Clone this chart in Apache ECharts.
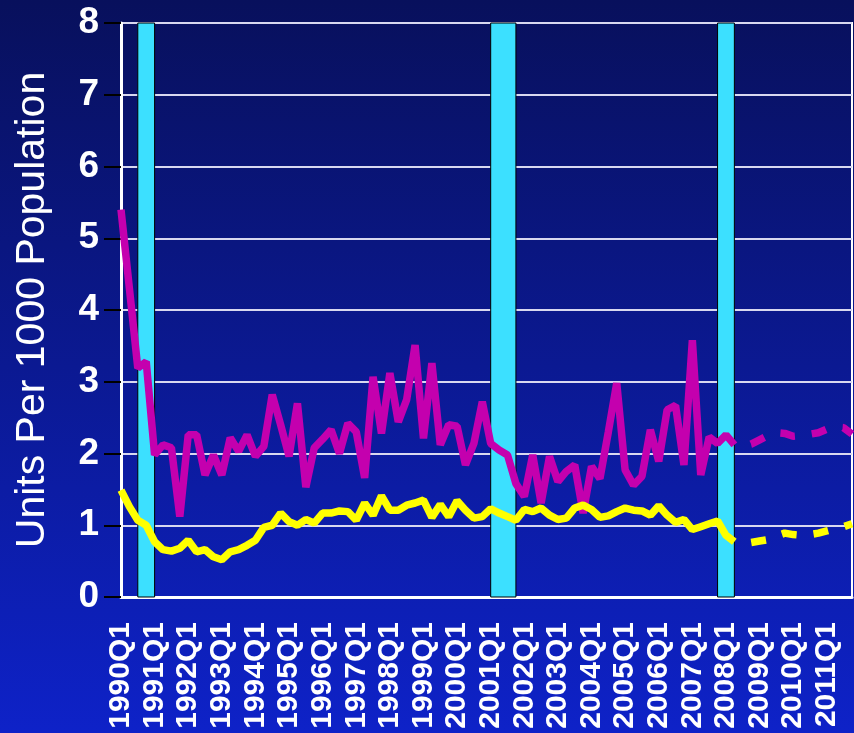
<!DOCTYPE html>
<html>
<head>
<meta charset="utf-8">
<script src="https://cdn.jsdelivr.net/npm/echarts@6/dist/echarts.min.js"></script>
<style>
html,body{margin:0;padding:0;}
#chart{width:854px;height:733px;}
</style>
</head>
<body>
<div id="chart"></div>
<script>
const years = [1990,1991,1992,1993,1994,1995,1996,1997,1998,1999,2000,2001,2002,2003,2004,2005,2006,2007,2008,2009,2010,2011]
const quarters = ['Q1','Q2','Q3','Q4']

const magentaActual = [5.4,4.3,3.19,3.28,1.98,2.12,2.08,1.12,2.26,2.26,1.70,1.98,1.70,2.22,2.03,2.26,
	1.96,2.10,2.82,2.40,1.96,2.70,1.53,2.08,2.20,2.33,2.00,2.42,2.30,1.66,3.07,2.28,
	3.12,2.44,2.75,3.51,2.21,3.26,2.12,2.40,2.38,1.84,2.14,2.72,2.14,2.05,1.98,1.58,
	1.40,1.98,1.31,1.96,1.61,1.75,1.84,1.17,1.82,1.65,2.30,2.98,1.77,1.56,1.68,2.33,
	1.89,2.61,2.67,1.84,3.58,1.70,2.23,2.14,2.26,2.12]
const magentaForecast = [2.12,2.10,2.13,2.19,2.25,2.29,2.28,2.24,2.25,2.27,2.29,2.34,2.37,2.36,2.27]

const yellowActual = [1.49,1.26,1.07,1.00,0.77,0.66,0.64,0.68,0.79,0.63,0.66,0.56,0.52,0.63,0.66,0.72,
	0.79,0.97,1.00,1.17,1.05,1.00,1.08,1.03,1.17,1.17,1.20,1.19,1.07,1.31,1.14,1.41,
	1.21,1.21,1.28,1.31,1.35,1.11,1.29,1.12,1.34,1.21,1.10,1.12,1.23,1.17,1.12,1.07,
	1.22,1.19,1.24,1.14,1.08,1.10,1.24,1.28,1.22,1.11,1.13,1.19,1.24,1.21,1.20,1.14,
	1.27,1.14,1.04,1.08,0.94,0.98,1.02,1.06,0.86,0.77]
const yellowForecast = [0.77,0.75,0.76,0.78,0.80,0.85,0.89,0.87,0.86,0.87,0.89,0.92,0.95,0.98,1.02]

const recessions = [['1990Q3','1991Q1'],['2001Q1','2001Q4'],['2007Q4','2008Q2']]

const categories = []
for(let i = 0 ; i < years.length ; i ++){
	for(let j = 0 ; j < quarters.length ; j ++){
		categories.push(years[i] + quarters[j])
	}
}

function forecastData(actual,forecast){
	const arr = []
	for(let i = 0 ; i < actual.length - 1 ; i ++) arr.push(null)
	return arr.concat(forecast)
}

const font = '"Liberation Sans", Arial, sans-serif'
const magenta = '#C400AE'
const yellow = '#FFFF00'

const chart = echarts.init(document.getElementById('chart'))
chart.setOption({
	animation:false,
	backgroundColor:{
		type:'linear',x:0,y:0,x2:0,y2:1,
		colorStops:[
			{offset:0,color:'#08105C'},
			{offset:1,color:'#0E22C8'}
		]
	},
	grid:{
		left:121,
		right:2,
		top:23,
		bottom:136,
		show:true,
		borderColor:'#FFFFFF',
		borderWidth:2
	},
	xAxis:{
		type:'category',
		data:categories,
		boundaryGap:false,
		axisLine:{lineStyle:{color:'#FFFFFF',width:3}},
		axisTick:{show:false},
		axisLabel:{
			interval:3,
			rotate:90,
			margin:25,
			color:'#FFFFFF',
			fontSize:30,
			fontWeight:'bold',
			fontFamily:font
		},
		splitLine:{show:false}
	},
	yAxis:{
		type:'value',
		min:0,
		max:8,
		interval:1,
		name:'Units Per 1000 Population',
		nameLocation:'middle',
		nameGap:68,
		nameTextStyle:{
			color:'#FFFFFF',
			fontSize:41,
			fontFamily:font
		},
		axisLine:{show:true,lineStyle:{color:'#FFFFFF',width:3}},
		axisTick:{show:true,length:17,lineStyle:{color:'#000000',width:2}},
		axisLabel:{
			margin:22,
			color:'#FFFFFF',
			fontSize:37,
			fontWeight:'bold',
			fontFamily:font
		},
		splitLine:{lineStyle:{color:'#D8D8F0',width:2}}
	},
	series:[
		{
			type:'line',
			data:[],
			z:1,
			markArea:{
				silent:true,
				itemStyle:{color:'#3CE0FF',borderColor:'#000000',borderWidth:1},
				data:recessions.map(r => [{xAxis:r[0]},{xAxis:r[1]}])
			}
		},
		{
			type:'line',
			name:'magenta',
			data:magentaActual,
			showSymbol:false,
			z:3,
			lineStyle:{color:magenta,width:7.5}
		},
		{
			type:'line',
			name:'magenta forecast',
			data:forecastData(magentaActual,magentaForecast),
			showSymbol:false,
			z:3,
			lineStyle:{color:magenta,width:7.5,type:[15,17],dashOffset:15}
		},
		{
			type:'line',
			name:'yellow',
			data:yellowActual,
			showSymbol:false,
			z:4,
			lineStyle:{color:yellow,width:7.5}
		},
		{
			type:'line',
			name:'yellow forecast',
			data:forecastData(yellowActual,yellowForecast),
			showSymbol:false,
			z:4,
			lineStyle:{color:yellow,width:7.5,type:[15,17],dashOffset:15}
		}
	]
})
</script>
</body>
</html>
